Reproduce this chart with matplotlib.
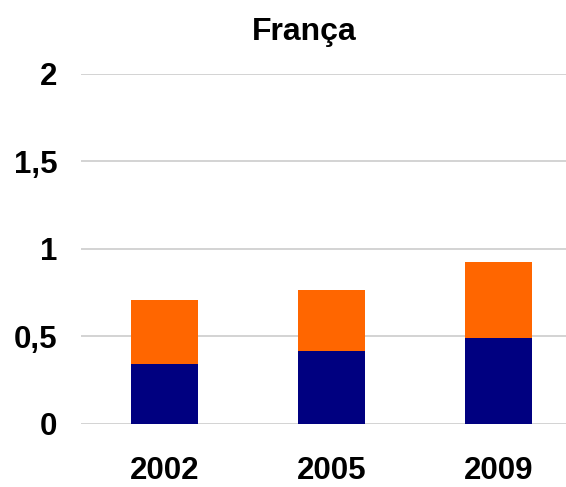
import matplotlib.pyplot as plt
import numpy as np

plt.rcParams['font.family'] = ['Liberation Sans', 'DejaVu Sans']

years = ['2002', '2005', '2009']
serie_baixo = [0.341, 0.415, 0.491]
serie_cima = [0.365, 0.35, 0.432]
yticks = [0, 0.5, 1, 1.5, 2]
ylabels = ['0', '0,5', '1', '1,5', '2']

fig = plt.figure(figsize=(5.66, 4.87), dpi=100)
ax = fig.add_axes([0.143, 0.13, 0.885, 0.719])

x = np.arange(len(years))
ax.bar(x, serie_baixo, 0.4, color='#000080', zorder=3)
ax.bar(x, serie_cima, 0.4, bottom=serie_baixo, color='#FF6600', zorder=3)

ax.set_xlim(-0.5, 2.5)
ax.set_ylim(0, 2)
ax.set_yticks(yticks)
ax.set_yticklabels(ylabels)
ax.set_xticks(x)
ax.set_xticklabels(years)
ax.tick_params(axis='y', length=0, pad=17, labelsize=22.5)
ax.tick_params(axis='x', length=0, pad=23, labelsize=22.5)
for lab in ax.get_xticklabels() + ax.get_yticklabels():
    lab.set_fontweight('bold')
ax.grid(axis='y', color='#c8c8c8', linewidth=1.1, zorder=0)
for s in ax.spines.values():
    s.set_visible(False)

fig.text(0.538, 0.935, 'França', ha='center', va='center', fontsize=23, fontweight='bold')

fig.savefig('out.png', dpi=100)
